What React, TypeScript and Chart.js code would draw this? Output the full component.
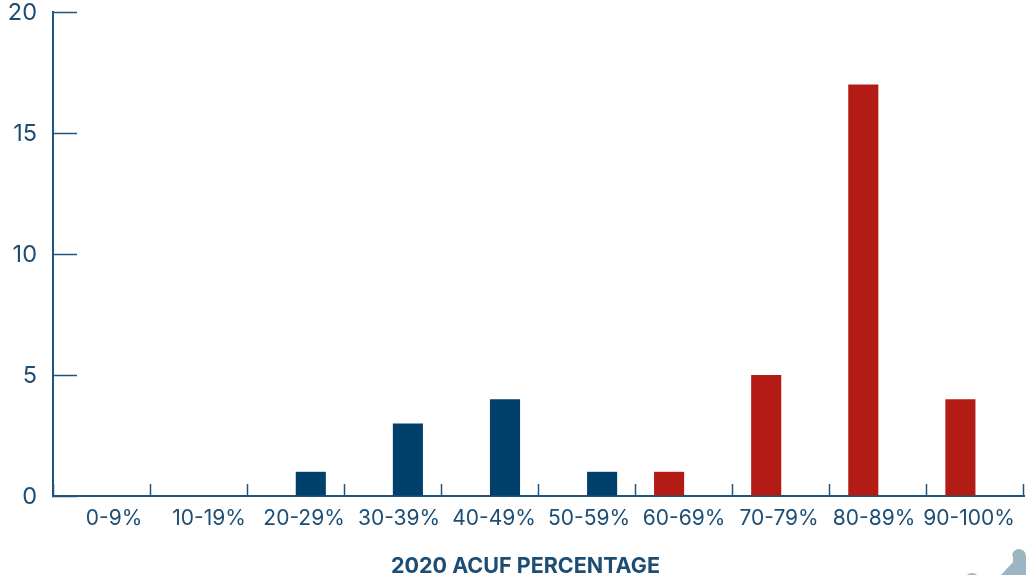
import React, { useEffect, useRef } from "react";
import { Chart, registerables } from "chart.js";

Chart.register(...registerables);

const categories = ["0-9%", "10-19%", "20-29%", "30-39%", "40-49%", "50-59%", "60-69%", "70-79%", "80-89%", "90-100%"];
const redValues = [0, 0, 0, 0, 0, 0, 1, 5, 17, 4];
const blueValues = [0, 0, 1, 3, 4, 1, 0, 0, 0, 0];
const yTicks = [0, 5, 10, 15, 20];
const axisTitle = "2020 ACUF PERCENTAGE";

const NAVY = "#00406b";
const RED = "#b21c14";
const RED_TRACE = "rgba(178,28,20,0.3)";
const AXIS = "#1b5580";
const TEXT = "#1c4d74";
const FONT = "Inter, 'Open Sans', sans-serif";

const cornerDecoration = {
  id: "cornerDecoration",
  afterDraw(chart: Chart) {
    const c = chart.ctx;
    c.save();
    c.fillStyle = "#a9b4c9";
    c.beginPath();
    c.arc(972, 581, 8, 0, Math.PI * 2);
    c.fill();
    c.fillStyle = "#9bb5c1";
    c.beginPath();
    c.moveTo(1001, 575);
    c.lineTo(1013, 562);
    c.lineTo(1013, 556);
    c.arc(1019, 556, 7, Math.PI, 0);
    c.lineTo(1026, 575);
    c.closePath();
    c.fill();
    c.restore();
  },
};

// The reference spaces its category labels a little tighter than its categories,
// and centres the axis title left of the axis centre.
function adjustXAxisText(scale: any) {
  if (scale.__adjusted) return;
  scale.__adjusted = true;
  const computeLabels = scale._computeLabelItems.bind(scale);
  scale._computeLabelItems = (area: any) =>
    computeLabels(area).map((item: any) => {
      const [x, y] = item.options.translation;
      const shifted = 114 + ((x - 101.5) * 95) / 97.1;
      return { ...item, options: { ...item.options, translation: [shifted, y] } };
    });
  const drawTitle = scale.drawTitle.bind(scale);
  scale.drawTitle = () => {
    const { left, right } = scale;
    scale.left = left - 26;
    drawTitle();
    scale.left = left;
    scale.right = right;
  };
}

export default function App() {
  const ref = useRef<HTMLCanvasElement>(null);
  useEffect(() => {
    document.body.style.margin = "0";
    const chart = new Chart(ref.current!, {
      type: "bar",
      data: {
        labels: categories,
        datasets: [
          {
            label: "High",
            data: redValues,
            backgroundColor: (ctx: any) => (ctx.raw === 0 ? RED_TRACE : RED),
            minBarLength: 1,
            categoryPercentage: 0.62,
            barPercentage: 1,
          },
          { label: "Low", data: blueValues, backgroundColor: NAVY, categoryPercentage: 0.62, barPercentage: 1 },
        ],
      },
      options: {
        animation: false,
        responsive: false,
        devicePixelRatio: 1,
        layout: { padding: { top: 12, right: 2, left: 0, bottom: 0 } },
        plugins: { legend: { display: false }, tooltip: { enabled: false } },
        scales: {
          x: {
            offset: true,
            grid: {
              offset: true,
              drawOnChartArea: false,
              drawTicks: true,
              tickLength: -12,
              tickColor: AXIS,
              tickWidth: 1.5,
            },
            border: { color: AXIS, width: 2 },
            ticks: { color: TEXT, font: { family: FONT, size: 21 }, padding: 22, maxRotation: 0, autoSkip: false },
            title: {
              display: true,
              text: axisTitle,
              color: TEXT,
              font: { family: FONT, size: 21.5, weight: "bold" },
              padding: { top: 0, bottom: -4 },
            },
            afterFit(scale: any) {
              scale.height = 79;
              scale.paddingLeft = 0;
              scale.paddingRight = 0;
              adjustXAxisText(scale);
            },
          },
          y: {
            min: 0,
            max: 20,
            afterBuildTicks(scale: any) {
              scale.ticks = yTicks.map((value) => ({ value }));
            },
            grid: {
              drawOnChartArea: false,
              drawTicks: true,
              tickLength: -24,
              tickColor: AXIS,
              tickWidth: 1.5,
            },
            border: { color: AXIS, width: 2 },
            ticks: { color: TEXT, font: { family: FONT, size: 23.5 }, padding: 40, labelOffset: 1 },
            afterFit(scale: any) {
              scale.width = 53;
              scale.paddingTop = 0;
              scale.paddingBottom = 0;
            },
          },
        },
      },
      plugins: [cornerDecoration],
    } as any);
    return () => chart.destroy();
  }, []);
  return <canvas ref={ref} width={1026} height={575} style={{ display: "block" }} />;
}
